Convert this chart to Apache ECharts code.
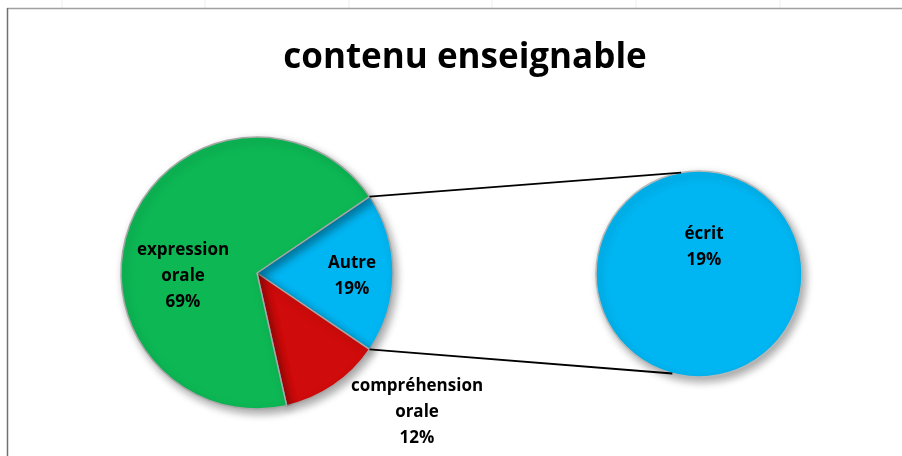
<!DOCTYPE html>
<html>
<head>
<meta charset="utf-8">
<script src="https://cdn.jsdelivr.net/npm/echarts@6/dist/echarts.min.js"></script>
<style>
  html, body { margin: 0; padding: 0; background: #fff; }
  #chart { width: 902px; height: 456px; }
</style>
</head>
<body>
<div id="chart"></div>
<script>
// données
const mainNames = ['Autre', 'compréhension orale', 'expression orale']
const mainValues = [19, 12, 69]
const subNames = ['écrit']
const subValues = [19]
const colors = ['#00B6F2', '#D00B0B', '#0DB854']

const chart = echarts.init(document.getElementById('chart'))

// géométrie des deux camemberts
const mainCenter = [257, 273]
const mainRadius = 136
const subCenter = [699, 274]
const subRadius = 103
const total = mainValues.reduce((a, b) => a + b, 0)
// la part "Autre" est centrée sur l'horizontale
const startAngle = (mainValues[0] / total) * 360 / 2

// positions des étiquettes (façon Excel)
const labelPos = {
  'Autre': [352, 276],
  'compréhension orale': [417, 412],
  'expression orale': [183, 276],
  'écrit': [704, 247]
}

function polar(c, r, deg) {
  const a = deg * Math.PI / 180
  return [c[0] + r * Math.cos(a), c[1] - r * Math.sin(a)]
}

const pTop = polar(mainCenter, mainRadius, startAngle)
const pBottom = polar(mainCenter, mainRadius, -startAngle)
const qTop = polar(subCenter, subRadius, 100)
const qBottom = polar(subCenter, subRadius, 255)

const labelStyle = {
  show: true,
  color: '#000',
  fontFamily: 'Open Sans',
  fontWeight: 'bold',
  fontSize: 17,
  lineHeight: 26,
  align: 'center',
  formatter: p => p.name.replace(' ', '\n') + '\n' + Math.round(p.percent) + '%'
}

function layoutFn(params) {
  const name = params.text.split('\n').slice(0, -1).join(' ')
  const pos = labelPos[name]
  if (!pos) return {}
  return { x: pos[0], y: pos[1], align: 'center', verticalAlign: 'middle' }
}

const shadow = {
  shadowBlur: 8,
  shadowOffsetX: 3,
  shadowOffsetY: 4,
  shadowColor: 'rgba(0,0,0,0.35)'
}

// lignes de la grille de la feuille au-dessus du cadre
const gridTicks = [62, 205, 349, 492, 636, 780].map(x => ({
  type: 'line',
  shape: { x1: x, y1: 0, x2: x, y2: 8 },
  style: { stroke: '#eeeeee', lineWidth: 1 },
  silent: true
}))

const option = {
  animation: false,
  title: {
    text: 'contenu enseignable',
    left: 460,
    textAlign: 'center',
    top: 36,
    textStyle: {
      fontFamily: 'Open Sans',
      fontWeight: 'bold',
      fontSize: 35,
      color: '#000'
    }
  },
  graphic: [
    ...gridTicks,
    {
      type: 'line',
      shape: { x1: 7, y1: 8.5, x2: 902, y2: 8.5 },
      style: { stroke: '#a0a0a0', lineWidth: 1.5 },
      silent: true
    },
    {
      type: 'line',
      shape: { x1: 7.5, y1: 8, x2: 7.5, y2: 456 },
      style: { stroke: '#707070', lineWidth: 1.5 },
      silent: true
    },
    {
      type: 'line',
      shape: { x1: pTop[0], y1: pTop[1], x2: qTop[0], y2: qTop[1] },
      style: { stroke: '#000', lineWidth: 1.8 },
      z: 10
    },
    {
      type: 'line',
      shape: { x1: pBottom[0], y1: pBottom[1], x2: qBottom[0], y2: qBottom[1] },
      style: { stroke: '#000', lineWidth: 1.8 },
      z: 10
    }
  ],
  series: [
    {
      type: 'pie',
      center: mainCenter,
      radius: mainRadius,
      startAngle: startAngle,
      clockwise: true,
      silent: true,
      itemStyle: Object.assign({ borderColor: '#a8a8a8', borderWidth: 1.5 }, shadow),
      label: Object.assign({ position: 'inside' }, labelStyle),
      labelLine: { show: false },
      labelLayout: layoutFn,
      data: mainNames.map((n, i) => ({
        name: n,
        value: mainValues[i],
        itemStyle: { color: colors[i] },
        label: i === 1 ? { position: 'outside' } : {}
      }))
    },
    {
      type: 'pie',
      center: subCenter,
      radius: subRadius,
      startAngle: 90,
      silent: true,
      itemStyle: Object.assign({ borderColor: '#b8b8b8', borderWidth: 1.5 }, shadow),
      label: Object.assign({ position: 'inside' }, labelStyle),
      labelLine: { show: false },
      labelLayout: layoutFn,
      data: subNames.map((n, i) => ({
        name: n,
        value: subValues[i],
        itemStyle: { color: colors[0] }
      }))
    }
  ]
}

// pour le second camembert, la part reste 19 % du total
option.series[1].label.formatter = p => p.name + '\n' + Math.round(p.value / total * 100) + '%'

chart.setOption(option)
</script>
</body>
</html>
